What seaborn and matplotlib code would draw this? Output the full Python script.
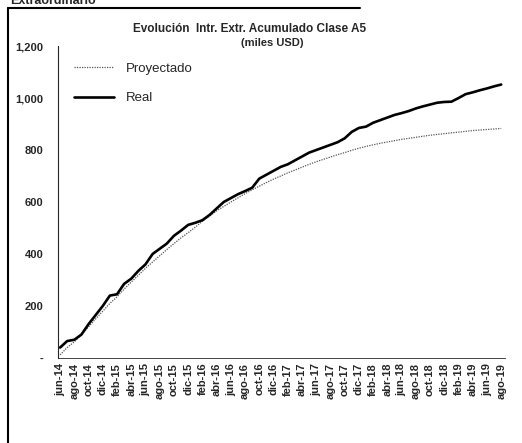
import pandas as pd
import numpy as np
import matplotlib
matplotlib.use("Agg")
import matplotlib.pyplot as plt
import seaborn as sns
from matplotlib.ticker import MultipleLocator, FuncFormatter

# meses jun-14 .. ago-19
meses_es = ['ene', 'feb', 'mar', 'abr', 'may', 'jun', 'jul', 'ago', 'sep', 'oct', 'nov', 'dic']
fechas = pd.period_range('2014-06', '2019-08', freq='M')
etiquetas = [meses_es[p.month - 1] + '-' + str(p.year)[2:] for p in fechas]

# valores (miles USD)
real = [40, 65, 70, 90, 130, 165, 200, 240, 245, 285, 305, 335, 360, 400, 420, 440,
        470, 490, 512, 520, 530, 550, 575, 600, 615, 630, 642, 655, 690, 705, 720,
        735, 745, 760, 775, 790, 800, 810, 820, 830, 845, 870, 885, 890, 905, 915,
        925, 935, 942, 950, 960, 968, 975, 982, 985, 986, 1000, 1015, 1022, 1030,
        1037, 1045, 1052]
proyectado = [12, 40, 62, 90, 120, 150, 180, 210, 235, 265, 292, 318, 345, 369, 393,
              417, 440, 462, 482, 503, 526, 546, 566, 583, 600, 616, 632, 647, 661,
              675, 688, 700, 712, 723, 734, 745, 755, 764, 773, 782, 790, 799, 807,
              814, 820, 826, 831, 836, 841, 845, 849, 853, 857, 860, 863, 866, 869,
              872, 875, 877, 879, 881, 883]

df = pd.DataFrame({'mes': np.arange(len(etiquetas)), 'Proyectado': proyectado, 'Real': real})

sns.set_style("white")
plt.rcParams['font.family'] = ['Liberation Sans', 'DejaVu Sans']

fig = plt.figure(figsize=(5.22, 4.43), dpi=100)
ax = fig.add_axes([0.111, 0.192, 0.856, 0.704])

sns.lineplot(data=df, x='mes', y='Proyectado', ax=ax, color='#555555', lw=0.9,
             linestyle=(0, (1, 1)), label='Proyectado')
sns.lineplot(data=df, x='mes', y='Real', ax=ax, color='black', lw=1.9, label='Real')

ax.set_ylim(0, 1200)
ax.set_xlim(-0.3, len(etiquetas) - 0.5)
ax.yaxis.set_major_locator(MultipleLocator(200))
ax.yaxis.set_minor_locator(MultipleLocator(40))
ax.yaxis.set_major_formatter(FuncFormatter(lambda v, p: '-' if v == 0 else f'{int(v):,}'))
ax.set_xticks(df['mes'][::2])
ax.set_xticklabels(etiquetas[::2], rotation=90, fontsize=8, fontweight='bold')
ax.set_xticks(df['mes'], minor=True)
ax.tick_params(axis='y', labelsize=8, direction='inout', length=5, width=0.8, pad=8)
ax.tick_params(axis='y', which='minor', direction='inout', length=3, width=0.6)
ax.tick_params(axis='x', which='both', direction='inout', length=3, width=0.6, pad=2)
for t in ax.get_yticklabels():
    t.set_fontweight('bold')
ax.set_xlabel('')
ax.set_ylabel('')
sns.despine(ax=ax, top=True, right=True)
ax.spines['left'].set_linewidth(0.8)
ax.spines['bottom'].set_linewidth(0.6)

ax.legend(loc='upper left', bbox_to_anchor=(0.01, 0.985), frameon=False, fontsize=9.5,
          handlelength=3.0, handletextpad=0.9, labelspacing=1.3)

fig.text(0.478, 0.927, 'Evolución  Intr. Extr. Acumulado Clase A5', ha='center',
         fontsize=8.5, fontweight='bold')
fig.text(0.522, 0.897, '(miles USD)', ha='center', fontsize=8, fontweight='bold')

# marco de la pagina escaneada
fig.add_artist(plt.Line2D([0.016, 0.016], [0.0, 0.982], color='black', lw=1.5, transform=fig.transFigure))
fig.add_artist(plt.Line2D([0.016, 0.69], [0.982, 0.982], color='black', lw=1.5, transform=fig.transFigure))
fig.text(0.02, 0.998, 'Extraordinario', fontsize=9, fontweight='bold', va='center')

fig.savefig('out.png', dpi=100)
